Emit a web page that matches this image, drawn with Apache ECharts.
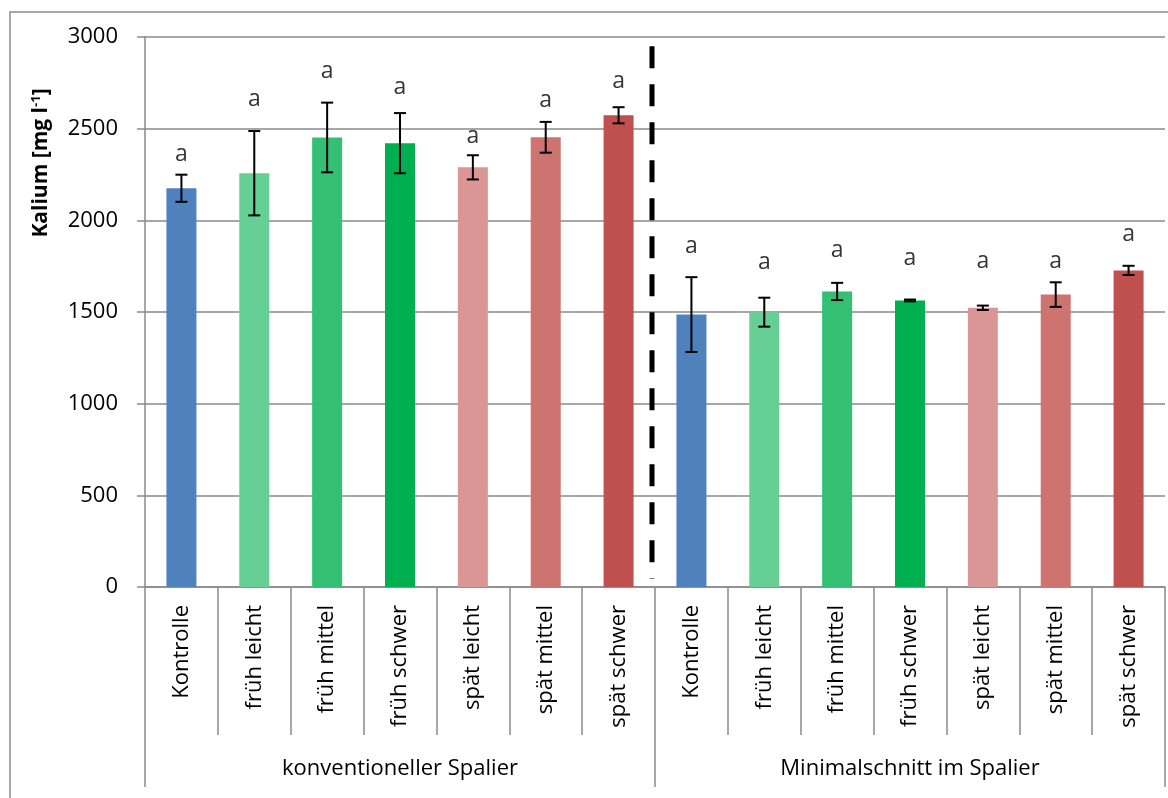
<!DOCTYPE html>
<html>
<head>
<meta charset="utf-8">
<title>Kalium</title>
<script src="https://cdn.jsdelivr.net/npm/echarts@6/dist/echarts.min.js"></script>
<style>
  html, body { margin: 0; padding: 0; background: #fff; }
  #main { width: 1168px; height: 798px; }
</style>
</head>
<body>
<div id="main"></div>
<script type="text/javascript">
// Daten
var categories = ['Kontrolle', 'früh leicht', 'früh mittel', 'früh schwer', 'spät leicht', 'spät mittel', 'spät schwer',
                  'Kontrolle', 'früh leicht', 'früh mittel', 'früh schwer', 'spät leicht', 'spät mittel', 'spät schwer'];
var groups = ['konventioneller Spalier', 'Minimalschnitt im Spalier'];
var kalium = [2175, 2257, 2452, 2421, 2289, 2453, 2573,
              1486, 1499, 1612, 1563, 1523, 1595, 1727];
var fehler = [74, 230, 190, 164, 66, 84, 44,
              204, 79, 47, 5, 12, 67, 25];
var buchstaben = ['a', 'a', 'a', 'a', 'a', 'a', 'a', 'a', 'a', 'a', 'a', 'a', 'a', 'a'];
var buchstabenY = [2360, 2661, 2814, 2727, 2460, 2652, 2756,
                   1859, 1770, 1836, 1792, 1777, 1776, 1923];
var yTicks = { min: 0, max: 3000, interval: 500 };

var farben = ['#4F81BD', '#66CF93', '#33BF74', '#00B050', '#D99694', '#CD7370', '#C0504D'];
var fontFam = '"Open Sans", "Noto Sans", sans-serif';
var grau = '#8a8a8a';

var myChart = echarts.init(document.getElementById('main'));

var barData = kalium.map(function (v, i) {
    return { value: v, itemStyle: { color: farben[i % 7] } };
});
var errData = kalium.map(function (v, i) {
    return [i, v - fehler[i], v + fehler[i]];
});
var letterData = buchstabenY.map(function (v, i) {
    return { value: [i, v], label: { formatter: buchstaben[i] } };
});

var option = {
    backgroundColor: '#fff',
    animation: false,
    grid: { left: 145, right: 3, top: 37, bottom: 211, containLabel: false },
    xAxis: [
        {
            type: 'category',
            data: categories,
            axisLine: { show: true, lineStyle: { color: grau, width: 1.5 } },
            axisTick: { show: true, interval: 0, length: 148, lineStyle: { color: grau, width: 1.5 } },
            axisLabel: {
                interval: 0, rotate: 90, margin: 18,
                fontSize: 22, color: '#000', fontFamily: fontFam
            }
        },
        {
            type: 'category',
            data: groups,
            position: 'bottom',
            axisLine: { show: false },
            axisTick: { show: true, interval: 0, length: 200, lineStyle: { color: grau, width: 1.5 } },
            axisLabel: {
                interval: 0, margin: 171,
                fontSize: 22, color: '#000', fontFamily: fontFam
            }
        }
    ],
    yAxis: {
        type: 'value',
        min: yTicks.min, max: yTicks.max, interval: yTicks.interval,
        axisLine: { show: true, lineStyle: { color: grau, width: 1.5 } },
        axisTick: { show: true, length: 8, lineStyle: { color: grau, width: 1.5 } },
        splitLine: { show: true, lineStyle: { color: grau, width: 1.5 } },
        axisLabel: {
            margin: 27, fontSize: 22, color: '#000', fontFamily: fontFam,
            formatter: function (v) { return String(v); }
        }
    },
    series: [
        {
            name: 'Kalium',
            type: 'bar',
            barWidth: 30,
            data: barData
        },
        {
            name: 'Fehler',
            type: 'custom',
            data: errData,
            z: 5,
            renderItem: function (params, api) {
                var x = api.coord([api.value(0), api.value(1)])[0];
                var lo = api.coord([api.value(0), api.value(1)])[1];
                var hi = api.coord([api.value(0), api.value(2)])[1];
                var cap = 6;
                var st = { stroke: '#000', lineWidth: 2 };
                return {
                    type: 'group',
                    children: [
                        { type: 'line', shape: { x1: x, y1: hi, x2: x, y2: lo }, style: st },
                        { type: 'line', shape: { x1: x - cap, y1: hi, x2: x + cap, y2: hi }, style: st },
                        { type: 'line', shape: { x1: x - cap, y1: lo, x2: x + cap, y2: lo }, style: st }
                    ]
                };
            }
        },
        {
            name: 'Buchstaben',
            type: 'scatter',
            symbolSize: 0,
            data: letterData,
            label: {
                show: true, position: 'inside',
                fontSize: 23, color: '#000', fontFamily: fontFam
            }
        }
    ],
    graphic: [
        {
            type: 'rect',
            shape: { x: 10, y: 12, width: 1170, height: 800 },
            style: { fill: 'none', stroke: grau, lineWidth: 1.5 },
            silent: true
        },
        {
            type: 'text',
            x: 41, y: 163,
            rotation: Math.PI / 2,
            style: {
                text: '{b|Kalium [mg l}{s|-1}{b|]}',
                align: 'center', verticalAlign: 'middle',
                rich: {
                    b: { fontSize: 21, fontWeight: 'bold', fontFamily: fontFam, fill: '#000' },
                    s: { fontSize: 13, fontWeight: 'bold', fontFamily: fontFam, fill: '#000', verticalAlign: 'top', padding: [0, 0, 9, 0] }
                }
            }
        }
    ]
};

myChart.setOption(option);

// gestrichelte Trennlinie zwischen den beiden Gruppen
var xa = myChart.convertToPixel({ xAxisIndex: 0 }, categories.length / 2 - 1);
var xb = myChart.convertToPixel({ xAxisIndex: 0 }, categories.length / 2);
var xs = (xa + xb) / 2 - 3;
var yTop = myChart.convertToPixel({ yAxisIndex: 0 }, 2950);
var yBot = myChart.convertToPixel({ yAxisIndex: 0 }, 45);
option.graphic.push({
    type: 'line',
    shape: { x1: xs, y1: yTop, x2: xs, y2: yBot },
    style: { stroke: '#000', lineWidth: 5, lineDash: [22, 16] },
    z: 10
});
myChart.setOption({ graphic: option.graphic });

window.addEventListener("resize", function () {
    myChart.resize();
});
</script>
</body>
</html>
